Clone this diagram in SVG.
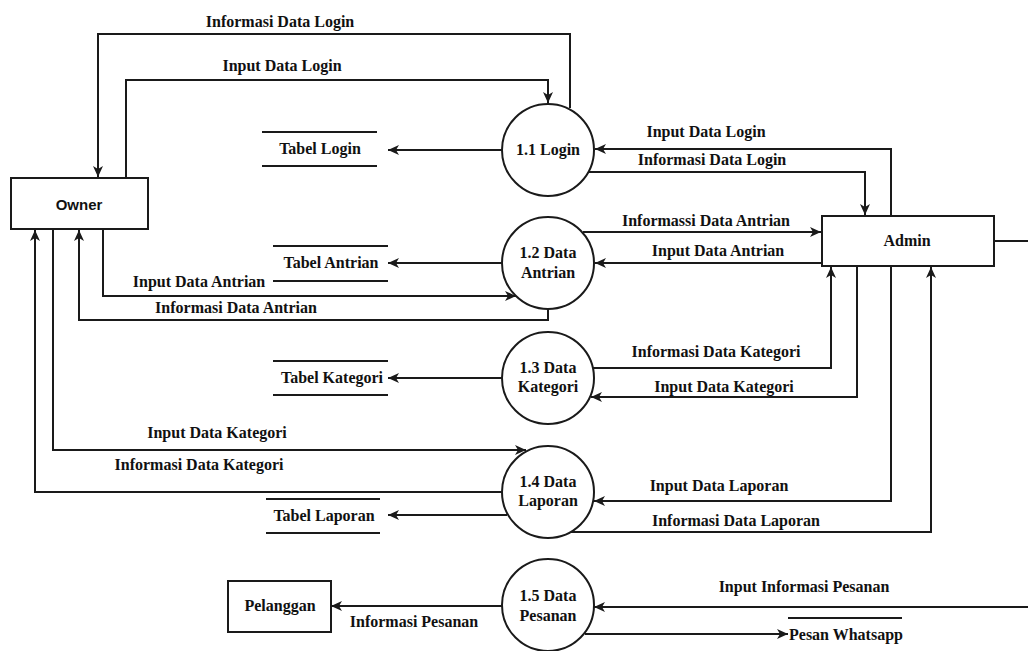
<svg xmlns="http://www.w3.org/2000/svg" width="1028" height="651" viewBox="0 0 1028 651">
<style>
.bg{fill:#fff}
.c{fill:none;stroke:#1a1a1a;stroke-width:2}
.ar{marker-end:url(#ah)}
.n{fill:#fff;stroke:#1a1a1a;stroke-width:2}
.ds{stroke:#1a1a1a;stroke-width:2}
.t{font-family:"Liberation Serif","Times New Roman",serif;font-weight:bold;font-size:16px;fill:#111;text-anchor:middle}
.s{font-family:"Liberation Sans",Arial,sans-serif;font-weight:bold;font-size:15px;fill:#111;text-anchor:middle}
</style>
<defs>
<marker id="ah" markerUnits="userSpaceOnUse" markerWidth="12" markerHeight="10" refX="11" refY="5" orient="auto">
<path d="M0,0 L11,5 L0,10 L3,5 z" fill="#1a1a1a"/>
</marker>
</defs>
<rect class="bg" x="0" y="0" width="1028" height="651"/>
<g id="connectors">
<path class="c ar" d="M570,108 V34 H98 V177"/>
<path class="c ar" d="M126,178 V80 H548 V103"/>
<path class="c ar" d="M502,150 H388"/>
<path class="c ar" d="M891,216 V149 H595"/>
<path class="c ar" d="M588,172 H865 V215"/>
<path class="c ar" d="M583,232 H821"/>
<path class="c ar" d="M822,263 H595"/>
<path class="c ar" d="M502,263 H388"/>
<path class="c ar" d="M103,229 V296 H516"/>
<path class="c ar" d="M548,309 V320 H79 V230"/>
<path class="c ar" d="M502,378 H388"/>
<path class="c ar" d="M593,368 H831 V267"/>
<path class="c ar" d="M857,267 V397 H591"/>
<path class="c ar" d="M53,230 V450 H526"/>
<path class="c ar" d="M502,492 H35 V230"/>
<path class="c ar" d="M507,515 H388"/>
<path class="c ar" d="M891,267 V501 H594"/>
<path class="c ar" d="M571,532 H931 V267"/>
<path class="c ar" d="M502,606 H331"/>
<path class="c ar" d="M1028,607 H594"/>
<path class="c ar" d="M585,634 H788"/>
<path class="c" d="M994,241 H1028"/>
<text class="t" x="280" y="27">Informasi Data Login</text>
<text class="t" x="282" y="71">Input Data Login</text>
<text class="t" x="706" y="137">Input Data Login</text>
<text class="t" x="712" y="165">Informasi Data Login</text>
<text class="t" x="706" y="226">Informassi Data Antrian</text>
<text class="t" x="718" y="256">Input Data Antrian</text>
<text class="t" x="199" y="287">Input Data Antrian</text>
<text class="t" x="236" y="313">Informasi Data Antrian</text>
<text class="t" x="716" y="357">Informasi Data Kategori</text>
<text class="t" x="724" y="392">Input Data Kategori</text>
<text class="t" x="217" y="438">Input Data Kategori</text>
<text class="t" x="199" y="470">Informasi Data Kategori</text>
<text class="t" x="719" y="491">Input Data Laporan</text>
<text class="t" x="736" y="526">Informasi Data Laporan</text>
<text class="t" x="414" y="627">Informasi Pesanan</text>
<text class="t" x="804" y="592">Input Informasi Pesanan</text>
</g>
<g id="owner">
<rect class="n" x="11" y="178" width="137" height="51"/>
<text class="s" x="79" y="210">Owner</text>
</g>
<g id="admin">
<rect class="n" x="822" y="216" width="172" height="50"/>
<text class="t" x="907" y="246">Admin</text>
</g>
<g id="pelanggan">
<rect class="n" x="228" y="581" width="103" height="51"/>
<text class="t" x="280" y="611">Pelanggan</text>
</g>
<g id="p11">
<circle class="n" cx="548" cy="150" r="46"/>
<text class="t" x="548" y="155">1.1 Login</text>
</g>
<g id="p12">
<circle class="n" cx="548" cy="263" r="46"/>
<text class="t" x="548" y="258">1.2 Data</text>
<text class="t" x="548" y="278">Antrian</text>
</g>
<g id="p13">
<circle class="n" cx="548" cy="378" r="46"/>
<text class="t" x="548" y="373">1.3 Data</text>
<text class="t" x="548" y="392">Kategori</text>
</g>
<g id="p14">
<circle class="n" cx="548" cy="492" r="46"/>
<text class="t" x="548" y="487">1.4 Data</text>
<text class="t" x="548" y="506">Laporan</text>
</g>
<g id="p15">
<circle class="n" cx="548" cy="605" r="46"/>
<text class="t" x="548" y="601">1.5 Data</text>
<text class="t" x="548" y="621">Pesanan</text>
</g>
<g id="store-login">
<line class="ds" x1="262" y1="132" x2="377" y2="132"/>
<line class="ds" x1="262" y1="166" x2="377" y2="166"/>
<text class="t" x="320" y="154">Tabel Login</text>
</g>
<g id="store-antrian">
<line class="ds" x1="273" y1="246" x2="388" y2="246"/>
<line class="ds" x1="273" y1="281" x2="388" y2="281"/>
<text class="t" x="331" y="268">Tabel Antrian</text>
</g>
<g id="store-kategori">
<line class="ds" x1="273" y1="361" x2="388" y2="361"/>
<line class="ds" x1="273" y1="395" x2="388" y2="395"/>
<text class="t" x="332" y="383">Tabel Kategori</text>
</g>
<g id="store-laporan">
<line class="ds" x1="266" y1="499" x2="380" y2="499"/>
<line class="ds" x1="266" y1="533" x2="380" y2="533"/>
<text class="t" x="324" y="521">Tabel Laporan</text>
</g>
<g id="store-whatsapp">
<line class="ds" x1="788" y1="618" x2="902" y2="618"/>
<text class="t" x="789" y="640" style="text-anchor:start">Pesan Whatsapp</text>
</g>
</svg>
